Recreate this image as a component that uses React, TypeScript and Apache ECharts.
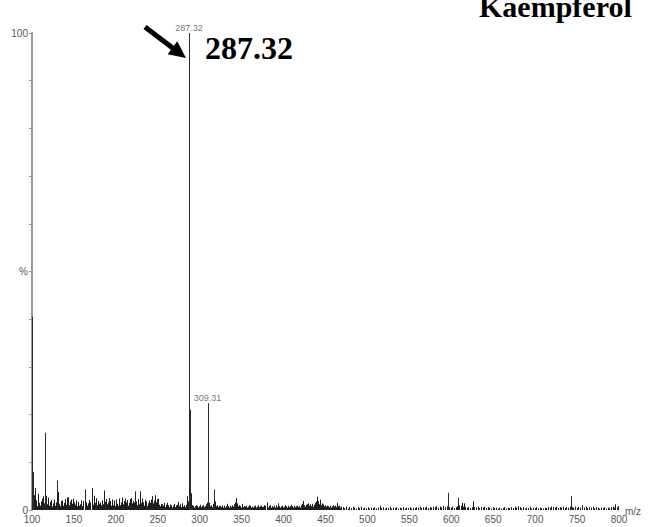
import React, { useEffect, useRef } from "react";
import * as echarts from "echarts";

// Mass spectrum of Kaempferol: [m/z, relative intensity %]
const basePeaks: [number, number][] = [
  [100.4, 40.5], [101.3, 8.0], [115.9, 16.2], [130.2, 6.2],
  [287.32, 100], [288.3, 21.0], [309.31, 22.4], [317.4, 4.3],
  [595.7, 3.6], [608.4, 2.6], [742.4, 2.9], [800.4, 5.7],
];

const lowMassNoise: [number, number][] = [
  [102.2, 3.1], [103.2, 4.6], [104.1, 1.2], [105.3, 2.0], [106.2, 0.8], [107.2, 3.4], [108.4, 1.5], [109.3, 0.9],
  [110.2, 1.8], [111.9, 2.4], [112.8, 1.1], [113.7, 2.9], [114.6, 1.4], [116.9, 3.0], [117.8, 1.2], [119.1, 2.6],
  [120.2, 0.9], [121.1, 1.7], [122.3, 1.0], [123.2, 2.1], [124.4, 0.7], [125.3, 1.4], [126.2, 2.2], [127.4, 0.9],
  [128.3, 1.6], [129.2, 1.1], [131.1, 3.8], [132.3, 1.3], [133.2, 0.8], [134.4, 1.9], [135.3, 1.2], [136.2, 2.0],
  [137.4, 0.9], [138.3, 1.5], [139.2, 2.3], [140.4, 1.1], [141.3, 2.6], [142.2, 1.4], [143.0, 2.7], [144.3, 1.0],
  [145.2, 1.8], [146.4, 2.2], [147.3, 1.3], [148.3, 2.4], [149.2, 0.9], [150.4, 1.6], [151.3, 1.1], [152.2, 2.0],
  [153.4, 0.8], [154.3, 1.4], [155.2, 1.7], [156.4, 0.9], [157.3, 1.2], [158.2, 2.0], [159.4, 0.8], [160.3, 1.5],
  [161.2, 1.9], [163.1, 4.3], [164.2, 1.6], [165.3, 0.9], [166.2, 1.4], [167.4, 2.1], [168.3, 0.9], [169.2, 1.6],
  [171.0, 4.6], [172.1, 2.2], [173.2, 1.1], [174.4, 3.0], [175.3, 1.5], [176.7, 2.5], [177.6, 1.0], [178.5, 1.9],
  [179.4, 1.3], [180.3, 0.8], [181.2, 1.6], [182.4, 1.0], [183.3, 2.0], [184.2, 1.2], [185.9, 4.1], [186.8, 1.7],
  [187.7, 1.0], [188.6, 2.3], [189.5, 1.2], [190.4, 1.6], [191.6, 2.5], [192.5, 1.1], [193.4, 1.9], [194.3, 0.9],
  [195.2, 2.2], [196.4, 1.0], [197.3, 1.5], [198.2, 2.0], [199.1, 0.8], [200.0, 2.2], [201.2, 1.3], [202.1, 0.9],
  [203.3, 1.8], [204.2, 2.4], [205.1, 1.0], [206.3, 1.6], [207.2, 2.6], [208.1, 1.2], [209.3, 1.9], [210.4, 2.4],
  [211.3, 1.0], [212.2, 1.6], [213.4, 2.1], [214.3, 0.9], [215.2, 1.5], [216.4, 2.3], [217.3, 1.1], [218.0, 2.5],
  [219.2, 1.4], [220.1, 1.9], [221.3, 0.8], [222.2, 1.6], [223.0, 3.9], [224.1, 1.8], [225.2, 1.0], [226.3, 2.3],
  [227.4, 1.2], [228.8, 3.9], [229.7, 1.5], [230.6, 2.4], [231.5, 1.0], [232.4, 1.6], [233.3, 0.9], [234.7, 2.1],
  [235.6, 1.2], [236.5, 1.8], [237.4, 0.8], [238.3, 1.4], [239.2, 2.0], [240.4, 1.1], [241.3, 1.5], [242.2, 2.2],
  [243.5, 2.9], [244.4, 1.4], [245.3, 2.0], [246.7, 3.1], [247.6, 1.6], [248.5, 2.3], [249.4, 1.0], [250.6, 2.4],
  [251.5, 1.1], [252.4, 0.8], [253.3, 1.3], [254.5, 0.7], [255.4, 1.2], [256.3, 0.9], [257.2, 1.5], [258.4, 0.6],
  [259.3, 1.1], [260.6, 1.5], [261.5, 0.8], [262.4, 1.0], [263.3, 0.6], [264.5, 1.2], [265.4, 0.7], [266.3, 1.0],
  [267.2, 0.5], [268.4, 0.9], [269.3, 1.3], [270.2, 0.6], [271.4, 1.0], [272.3, 0.7], [273.2, 1.1], [274.5, 1.7],
  [275.4, 0.8], [276.3, 1.2], [277.2, 0.6], [278.4, 0.9], [279.3, 1.4], [280.2, 0.7], [281.4, 1.0], [282.3, 0.6],
  [283.2, 1.1], [284.4, 1.3], [285.2, 2.9], [286.3, 1.8], [289.3, 3.5],
];

const midMassNoise: [number, number][] = [
  [290.4, 1.0], [291.3, 0.6], [292.5, 0.9], [293.4, 0.5], [294.3, 0.8], [295.5, 1.0], [296.4, 0.6], [297.3, 0.9],
  [298.5, 0.5], [299.4, 0.8], [300.3, 1.1], [301.5, 0.6], [302.4, 0.9], [303.3, 0.7], [304.5, 1.0], [305.4, 0.6],
  [306.3, 0.8], [307.5, 1.2], [308.4, 1.6], [310.3, 4.0], [311.2, 1.5], [312.4, 0.8], [313.3, 1.0], [314.5, 0.6],
  [315.4, 0.9], [316.3, 1.3], [318.3, 1.8], [319.5, 0.8], [320.4, 1.0], [321.3, 0.6], [322.5, 0.9], [323.4, 0.5],
  [324.3, 0.8], [325.5, 0.6], [326.4, 0.9], [327.3, 0.5], [328.5, 0.7], [329.4, 0.9], [330.3, 0.5], [331.2, 0.8],
  [332.2, 1.3], [333.4, 0.6], [334.3, 0.8], [335.5, 0.5], [336.4, 0.9], [337.3, 0.6], [338.5, 1.0], [339.4, 0.7],
  [340.3, 1.2], [341.5, 0.8], [342.4, 1.6], [343.3, 2.5], [344.5, 1.4], [345.4, 0.8], [346.3, 1.0], [347.5, 0.6],
  [348.4, 0.8], [349.3, 0.5], [350.1, 1.3], [351.3, 0.6], [352.5, 0.8], [353.4, 0.5], [354.3, 0.7], [355.5, 0.9],
  [356.4, 0.5], [357.3, 0.7], [358.5, 1.0], [359.4, 0.6], [360.3, 0.9], [361.5, 0.5], [362.4, 0.7], [363.3, 0.5],
  [364.5, 0.8], [365.4, 0.6], [366.3, 0.9], [367.5, 0.5], [368.4, 0.7], [369.3, 1.0], [370.5, 0.6], [371.4, 0.8],
  [372.3, 0.5], [373.5, 0.9], [374.4, 0.6], [375.3, 0.7], [376.5, 1.0], [377.4, 0.6], [378.3, 0.9], [379.9, 1.6],
  [380.8, 0.8], [381.7, 0.5], [382.6, 0.9], [383.5, 0.6], [384.4, 1.0], [385.3, 0.5], [386.5, 0.8], [387.4, 0.6],
  [388.3, 0.9], [389.5, 0.5], [390.4, 0.7], [391.3, 1.0], [392.5, 0.6], [393.7, 1.4], [394.6, 0.8], [395.5, 0.5],
  [396.4, 0.8], [397.3, 0.6], [398.5, 0.9], [399.4, 0.5], [400.3, 0.7], [401.5, 1.0], [402.4, 0.6], [403.3, 0.8],
  [404.5, 0.5], [405.4, 0.9], [406.3, 0.6], [407.5, 0.8], [408.4, 1.1], [409.3, 0.6], [410.5, 0.8], [411.4, 0.5],
  [412.3, 0.9], [413.5, 0.6], [414.4, 0.8], [415.3, 0.5], [416.5, 0.9], [417.4, 0.6], [418.3, 0.8], [419.5, 0.5],
  [420.4, 0.7], [421.3, 1.0], [422.5, 1.3], [423.5, 1.9], [424.4, 1.0], [425.3, 0.7], [426.5, 1.1], [427.4, 0.8],
  [428.3, 1.2], [429.5, 1.4], [430.4, 0.9], [431.3, 1.2], [432.5, 0.8], [433.4, 1.0], [434.3, 1.3], [435.5, 0.7],
  [436.4, 1.1], [437.3, 1.5], [438.5, 1.8], [439.4, 2.8], [440.3, 1.4], [441.5, 1.9], [442.4, 1.2], [443.4, 2.2],
  [444.3, 1.0], [445.5, 1.4], [446.4, 0.9], [447.3, 1.2], [448.5, 0.8], [449.4, 1.0], [450.3, 0.7], [451.5, 0.9],
  [452.4, 0.6], [453.3, 0.8], [454.5, 0.6], [455.4, 0.9], [456.3, 0.5], [457.5, 0.8], [458.4, 0.6], [459.3, 1.0],
  [460.5, 0.7], [461.4, 0.9], [462.3, 0.6], [463.3, 1.5], [464.4, 0.8], [465.5, 0.6], [466.4, 0.9], [467.3, 0.5],
  [468.5, 0.7],
];

const highMassNoise: [number, number][] = [
  [470.4, 0.6], [472.3, 0.4], [474.5, 0.7], [476.4, 0.3], [478.3, 0.6], [480.5, 0.4], [482.4, 0.7], [484.3, 0.5],
  [486.5, 0.3], [488.4, 0.6], [490.3, 0.4], [492.5, 0.7], [494.4, 0.3], [496.3, 0.5], [498.5, 0.4], [500.4, 0.6],
  [502.3, 0.3], [504.5, 0.5], [506.4, 0.4], [508.3, 0.6], [510.5, 0.3], [512.4, 0.5], [514.9, 0.9], [516.3, 0.4],
  [518.5, 0.6], [520.4, 0.3], [522.3, 0.5], [524.5, 0.4], [526.4, 0.7], [528.3, 0.3], [530.5, 0.5], [532.4, 0.4],
  [534.3, 0.6], [536.5, 0.3], [538.4, 0.5], [540.3, 0.4], [542.5, 0.6], [544.4, 0.3], [546.3, 0.5], [548.5, 0.4],
  [550.4, 0.6], [552.3, 0.3], [554.5, 0.5], [556.4, 0.4], [558.3, 0.6], [560.5, 0.5], [562.4, 0.7], [564.3, 0.4],
  [566.5, 0.6], [568.4, 0.5], [570.3, 0.7], [572.5, 0.4], [574.4, 0.6], [576.3, 0.5], [578.5, 0.7], [580.4, 0.6],
  [582.3, 0.8], [584.5, 0.5], [586.4, 0.7], [588.3, 0.6], [590.5, 0.9], [592.4, 0.6], [594.3, 0.8], [596.6, 1.2],
  [597.5, 0.6], [599.4, 0.5], [601.3, 0.7], [603.5, 0.4], [605.4, 0.6], [607.3, 0.8], [609.5, 1.0], [611.4, 0.9],
  [612.4, 1.5], [613.3, 0.8], [614.5, 0.7], [615.5, 1.4], [616.4, 0.7], [618.3, 0.5], [620.5, 0.6], [622.4, 0.4],
  [624.3, 0.6], [626.2, 1.8], [627.4, 0.6], [629.3, 0.5], [631.5, 0.7], [633.4, 0.4], [635.3, 0.6], [637.5, 0.5],
  [639.4, 0.7], [641.3, 0.4], [643.5, 0.6], [645.4, 0.5], [647.3, 0.3], [649.5, 0.6], [651.4, 0.4], [653.3, 0.5],
  [655.5, 0.3], [657.4, 0.5], [659.3, 0.3], [661.5, 0.4], [663.4, 0.6], [665.3, 0.3], [667.5, 0.5], [669.4, 0.4],
  [671.3, 0.6], [673.5, 0.4], [675.4, 0.7], [677.3, 0.5], [679.5, 0.8], [681.4, 0.6], [683.3, 0.4], [685.5, 0.6],
  [687.4, 0.3], [689.3, 0.5], [691.5, 0.4], [693.4, 0.7], [695.3, 0.3], [697.5, 0.5], [699.4, 0.4], [701.3, 0.6],
  [703.5, 0.3], [705.4, 0.5], [707.3, 0.4], [709.5, 0.3], [711.4, 0.5], [713.3, 0.4], [715.5, 0.6], [717.4, 0.5],
  [719.3, 0.7], [721.5, 0.6], [723.4, 0.5], [725.3, 0.7], [727.5, 0.4], [729.4, 0.6], [731.3, 0.5], [733.5, 0.7],
  [735.4, 0.4], [737.3, 0.6], [739.5, 0.5], [741.4, 0.7], [743.5, 0.6], [745.4, 0.5], [747.3, 0.7], [749.5, 0.4],
  [751.4, 0.6], [753.3, 0.5], [755.5, 0.7], [756.4, 1.0], [758.3, 0.5], [760.5, 0.7], [762.4, 0.4], [764.3, 0.6],
  [766.5, 0.5], [768.4, 0.7], [770.3, 0.4], [772.5, 0.6], [774.4, 0.5], [776.3, 0.3], [778.5, 0.5], [780.4, 0.4],
  [782.3, 0.6], [784.5, 0.3], [786.4, 0.5], [788.3, 0.4], [790.5, 0.6], [792.4, 0.7], [794.3, 0.5], [795.6, 1.2],
  [797.5, 0.6], [799.3, 0.8],
];

// Peaks that carry an m/z annotation above the stick
const labelledPeaks: [number, number][] = [
  [287.32, 100],
  [309.31, 22.4],
];

const xTicks = { min: 100, max: 800, step: 50 };
const yTicks = { min: 0, max: 100, step: 10 };

const compoundName = "Kaempferol";
const basePeakText = "287.32";

const sans = '"Liberation Sans", Arial, sans-serif';
const serif = '"Liberation Serif", "Times New Roman", serif';

function stickRenderer(color: string) {
  return (_params: any, api: any) => {
    const mz = api.value(0);
    const inten = api.value(1);
    const top = api.coord([mz, inten]);
    const base = api.coord([mz, 0]);
    const x = Math.round(top[0]) + 0.5;
    return {
      type: "line",
      shape: { x1: x, y1: top[1], x2: x, y2: base[1] },
      style: { stroke: color, lineWidth: 1 },
    };
  };
}

export default function App() {
  const ref = useRef<HTMLDivElement>(null);

  useEffect(() => {
    if (!ref.current) return;
    const chart = echarts.init(ref.current, undefined, { renderer: "svg" });

    const noise = [...lowMassNoise, ...midMassNoise, ...highMassNoise];

    // arrow geometry pointing at the base peak
    const tip = [186, 58];
    const tail = [145, 27];
    const dx = tip[0] - tail[0];
    const dy = tip[1] - tail[1];
    const len = Math.hypot(dx, dy);
    const ux = dx / len;
    const uy = dy / len;
    const headLen = 17;
    const headHalf = 8;
    const bx = tip[0] - ux * headLen;
    const by = tip[1] - uy * headLen;

    chart.setOption({
      animation: false,
      backgroundColor: "#ffffff",
      grid: { left: 32, right: 29, top: 33, bottom: 17, containLabel: false },
      xAxis: {
        type: "value",
        min: xTicks.min,
        max: xTicks.max,
        interval: xTicks.step,
        axisLine: { show: false },
        axisTick: { show: false },
        splitLine: { show: false },
        axisLabel: {
          fontSize: 10,
          color: "#555",
          fontFamily: sans,
          margin: 4,
          showMinLabel: true,
          showMaxLabel: true,
        },
      },
      yAxis: {
        type: "value",
        min: yTicks.min,
        max: yTicks.max,
        interval: yTicks.step,
        axisLine: { show: true, lineStyle: { color: "#9a9a9a", width: 2 } },
        axisTick: { show: true, length: 3, lineStyle: { color: "#9a9a9a", width: 1 } },
        splitLine: { show: false },
        axisLabel: {
          fontSize: 10,
          color: "#555",
          fontFamily: sans,
          margin: 4,
          formatter: (v: number) => (v === 0 ? "0" : v === 100 ? "100" : v === 50 ? "%" : ""),
        },
      },
      series: [
        {
          type: "custom",
          renderItem: stickRenderer("#1e1e1e"),
          data: noise,
          encode: { x: 0, y: 1 },
          clip: true,
          z: 2,
        },
        {
          type: "custom",
          renderItem: stickRenderer("#2a2a2a"),
          data: basePeaks,
          encode: { x: 0, y: 1 },
          clip: true,
          z: 3,
        },
        {
          type: "scatter",
          data: labelledPeaks,
          symbolSize: 0,
          silent: true,
          z: 4,
          label: {
            show: true,
            position: "top",
            distance: 1,
            fontSize: 9,
            fontFamily: sans,
            color: "#4a5060",
            formatter: (p: any) => p.value[0].toFixed(2),
          },
        },
      ],
      graphic: [
        {
          type: "text",
          style: {
            text: compoundName,
            x: 479,
            y: 6,
            fontSize: 30,
            fontWeight: "bold",
            fontFamily: serif,
            fill: "#000",
            verticalAlign: "middle",
            align: "left",
          },
        },
        {
          type: "text",
          style: {
            text: basePeakText,
            x: 205,
            y: 48,
            fontSize: 32,
            fontWeight: "bold",
            fontFamily: serif,
            fill: "#000",
            verticalAlign: "middle",
            align: "left",
          },
        },
        {
          type: "line",
          shape: { x1: tail[0], y1: tail[1], x2: bx + ux * 2, y2: by + uy * 2 },
          style: { stroke: "#000", lineWidth: 5 },
        },
        {
          type: "polygon",
          shape: {
            points: [
              [tip[0], tip[1]],
              [bx - uy * headHalf, by + ux * headHalf],
              [bx + uy * headHalf, by - ux * headHalf],
            ],
          },
          style: { fill: "#000" },
        },
        {
          type: "text",
          style: {
            text: "m/z",
            x: 625,
            y: 511,
            fontSize: 10,
            fontFamily: sans,
            fill: "#555",
            verticalAlign: "middle",
            align: "left",
          },
        },
      ],
    });

    return () => chart.dispose();
  }, []);

  return (
    <div
      ref={ref}
      style={{ position: "fixed", left: 0, top: 0, width: 648, height: 527, background: "#fff" }}
    />
  );
}
